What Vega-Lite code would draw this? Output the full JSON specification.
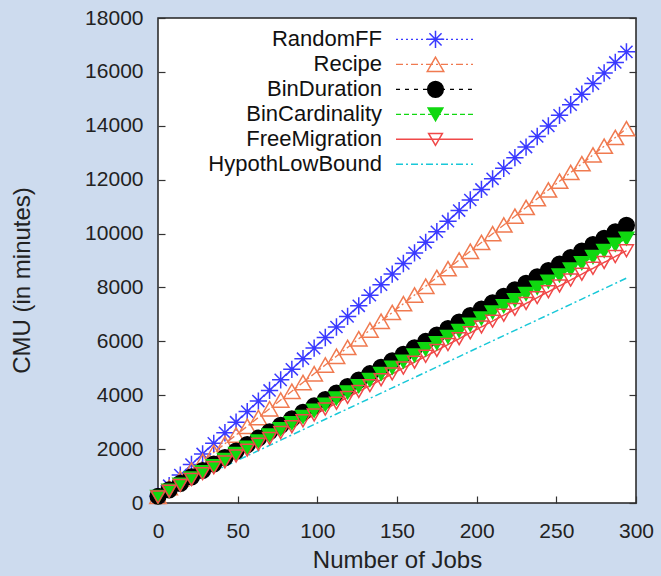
{
  "$schema": "https://vega.github.io/schema/vega-lite/v6.json",
  "autosize": "none",
  "width": 478,
  "height": 485,
  "padding": {"left": 158, "top": 18, "right": 25, "bottom": 73},
  "background": "#cddbee",
  "config": {
    "view": {"fill": "white", "stroke": "#222", "strokeWidth": 1.5},
    "font": "Liberation Sans",
    "axis": {"grid": false, "domain": false, "tickColor": "#333", "tickWidth": 1.2, "tickSize": -7, "labelFont": "Liberation Sans", "labelFontSize": 21, "labelColor": "#222", "titleFont": "Liberation Sans", "titleFontSize": 24, "titleFontWeight": "normal", "titleColor": "#222", "format": "d", "labelFlush": false}
  },
  "data": {"values": [
    {"s":"RandomFF","x":0,"y":250},{"s":"RandomFF","x":7,"y":643},{"s":"RandomFF","x":14,"y":1035},{"s":"RandomFF","x":21,"y":1428},{"s":"RandomFF","x":28,"y":1821},{"s":"RandomFF","x":35,"y":2214},{"s":"RandomFF","x":42,"y":2606},{"s":"RandomFF","x":49,"y":2999},{"s":"RandomFF","x":56,"y":3392},{"s":"RandomFF","x":63,"y":3784},{"s":"RandomFF","x":70,"y":4177},{"s":"RandomFF","x":77,"y":4570},{"s":"RandomFF","x":84,"y":4962},{"s":"RandomFF","x":91,"y":5355},{"s":"RandomFF","x":98,"y":5748},{"s":"RandomFF","x":105,"y":6141},{"s":"RandomFF","x":112,"y":6533},{"s":"RandomFF","x":119,"y":6926},{"s":"RandomFF","x":126,"y":7319},{"s":"RandomFF","x":133,"y":7711},{"s":"RandomFF","x":140,"y":8104},{"s":"RandomFF","x":147,"y":8497},{"s":"RandomFF","x":154,"y":8889},{"s":"RandomFF","x":161,"y":9282},{"s":"RandomFF","x":168,"y":9675},{"s":"RandomFF","x":175,"y":10068},{"s":"RandomFF","x":182,"y":10460},{"s":"RandomFF","x":189,"y":10853},{"s":"RandomFF","x":196,"y":11246},{"s":"RandomFF","x":203,"y":11638},{"s":"RandomFF","x":210,"y":12031},{"s":"RandomFF","x":217,"y":12424},{"s":"RandomFF","x":224,"y":12816},{"s":"RandomFF","x":231,"y":13209},{"s":"RandomFF","x":238,"y":13602},{"s":"RandomFF","x":245,"y":13995},{"s":"RandomFF","x":252,"y":14387},{"s":"RandomFF","x":259,"y":14780},{"s":"RandomFF","x":266,"y":15173},{"s":"RandomFF","x":273,"y":15565},{"s":"RandomFF","x":280,"y":15958},{"s":"RandomFF","x":287,"y":16351},{"s":"RandomFF","x":294,"y":16743},
    {"s":"Recipe","x":0,"y":250},{"s":"Recipe","x":7,"y":575},{"s":"Recipe","x":14,"y":900},{"s":"Recipe","x":21,"y":1224},{"s":"Recipe","x":28,"y":1549},{"s":"Recipe","x":35,"y":1874},{"s":"Recipe","x":42,"y":2199},{"s":"Recipe","x":49,"y":2524},{"s":"Recipe","x":56,"y":2848},{"s":"Recipe","x":63,"y":3173},{"s":"Recipe","x":70,"y":3498},{"s":"Recipe","x":77,"y":3823},{"s":"Recipe","x":84,"y":4148},{"s":"Recipe","x":91,"y":4472},{"s":"Recipe","x":98,"y":4797},{"s":"Recipe","x":105,"y":5122},{"s":"Recipe","x":112,"y":5447},{"s":"Recipe","x":119,"y":5772},{"s":"Recipe","x":126,"y":6096},{"s":"Recipe","x":133,"y":6421},{"s":"Recipe","x":140,"y":6746},{"s":"Recipe","x":147,"y":7071},{"s":"Recipe","x":154,"y":7396},{"s":"Recipe","x":161,"y":7720},{"s":"Recipe","x":168,"y":8045},{"s":"Recipe","x":175,"y":8370},{"s":"Recipe","x":182,"y":8695},{"s":"Recipe","x":189,"y":9020},{"s":"Recipe","x":196,"y":9344},{"s":"Recipe","x":203,"y":9669},{"s":"Recipe","x":210,"y":9994},{"s":"Recipe","x":217,"y":10319},{"s":"Recipe","x":224,"y":10644},{"s":"Recipe","x":231,"y":10968},{"s":"Recipe","x":238,"y":11293},{"s":"Recipe","x":245,"y":11618},{"s":"Recipe","x":252,"y":11943},{"s":"Recipe","x":259,"y":12268},{"s":"Recipe","x":266,"y":12592},{"s":"Recipe","x":273,"y":12917},{"s":"Recipe","x":280,"y":13242},{"s":"Recipe","x":287,"y":13567},{"s":"Recipe","x":294,"y":13892},
    {"s":"BinDuration","x":0,"y":250},{"s":"BinDuration","x":7,"y":489},{"s":"BinDuration","x":14,"y":729},{"s":"BinDuration","x":21,"y":968},{"s":"BinDuration","x":28,"y":1208},{"s":"BinDuration","x":35,"y":1447},{"s":"BinDuration","x":42,"y":1686},{"s":"BinDuration","x":49,"y":1926},{"s":"BinDuration","x":56,"y":2165},{"s":"BinDuration","x":63,"y":2405},{"s":"BinDuration","x":70,"y":2644},{"s":"BinDuration","x":77,"y":2883},{"s":"BinDuration","x":84,"y":3123},{"s":"BinDuration","x":91,"y":3362},{"s":"BinDuration","x":98,"y":3602},{"s":"BinDuration","x":105,"y":3841},{"s":"BinDuration","x":112,"y":4080},{"s":"BinDuration","x":119,"y":4320},{"s":"BinDuration","x":126,"y":4559},{"s":"BinDuration","x":133,"y":4799},{"s":"BinDuration","x":140,"y":5038},{"s":"BinDuration","x":147,"y":5277},{"s":"BinDuration","x":154,"y":5517},{"s":"BinDuration","x":161,"y":5756},{"s":"BinDuration","x":168,"y":5996},{"s":"BinDuration","x":175,"y":6235},{"s":"BinDuration","x":182,"y":6474},{"s":"BinDuration","x":189,"y":6714},{"s":"BinDuration","x":196,"y":6953},{"s":"BinDuration","x":203,"y":7193},{"s":"BinDuration","x":210,"y":7432},{"s":"BinDuration","x":217,"y":7671},{"s":"BinDuration","x":224,"y":7911},{"s":"BinDuration","x":231,"y":8150},{"s":"BinDuration","x":238,"y":8390},{"s":"BinDuration","x":245,"y":8629},{"s":"BinDuration","x":252,"y":8868},{"s":"BinDuration","x":259,"y":9108},{"s":"BinDuration","x":266,"y":9347},{"s":"BinDuration","x":273,"y":9587},{"s":"BinDuration","x":280,"y":9826},{"s":"BinDuration","x":287,"y":10065},{"s":"BinDuration","x":294,"y":10305},
    {"s":"BinCardinality","x":0,"y":230},{"s":"BinCardinality","x":7,"y":458},{"s":"BinCardinality","x":14,"y":686},{"s":"BinCardinality","x":21,"y":915},{"s":"BinCardinality","x":28,"y":1143},{"s":"BinCardinality","x":35,"y":1371},{"s":"BinCardinality","x":42,"y":1599},{"s":"BinCardinality","x":49,"y":1827},{"s":"BinCardinality","x":56,"y":2056},{"s":"BinCardinality","x":63,"y":2284},{"s":"BinCardinality","x":70,"y":2512},{"s":"BinCardinality","x":77,"y":2740},{"s":"BinCardinality","x":84,"y":2968},{"s":"BinCardinality","x":91,"y":3197},{"s":"BinCardinality","x":98,"y":3425},{"s":"BinCardinality","x":105,"y":3653},{"s":"BinCardinality","x":112,"y":3881},{"s":"BinCardinality","x":119,"y":4109},{"s":"BinCardinality","x":126,"y":4338},{"s":"BinCardinality","x":133,"y":4566},{"s":"BinCardinality","x":140,"y":4794},{"s":"BinCardinality","x":147,"y":5022},{"s":"BinCardinality","x":154,"y":5250},{"s":"BinCardinality","x":161,"y":5479},{"s":"BinCardinality","x":168,"y":5707},{"s":"BinCardinality","x":175,"y":5935},{"s":"BinCardinality","x":182,"y":6163},{"s":"BinCardinality","x":189,"y":6391},{"s":"BinCardinality","x":196,"y":6620},{"s":"BinCardinality","x":203,"y":6848},{"s":"BinCardinality","x":210,"y":7076},{"s":"BinCardinality","x":217,"y":7304},{"s":"BinCardinality","x":224,"y":7532},{"s":"BinCardinality","x":231,"y":7761},{"s":"BinCardinality","x":238,"y":7989},{"s":"BinCardinality","x":245,"y":8217},{"s":"BinCardinality","x":252,"y":8445},{"s":"BinCardinality","x":259,"y":8673},{"s":"BinCardinality","x":266,"y":8902},{"s":"BinCardinality","x":273,"y":9130},{"s":"BinCardinality","x":280,"y":9358},{"s":"BinCardinality","x":287,"y":9586},{"s":"BinCardinality","x":294,"y":9814},
    {"s":"FreeMigration","x":0,"y":220},{"s":"FreeMigration","x":7,"y":438},{"s":"FreeMigration","x":14,"y":655},{"s":"FreeMigration","x":21,"y":873},{"s":"FreeMigration","x":28,"y":1091},{"s":"FreeMigration","x":35,"y":1309},{"s":"FreeMigration","x":42,"y":1526},{"s":"FreeMigration","x":49,"y":1744},{"s":"FreeMigration","x":56,"y":1962},{"s":"FreeMigration","x":63,"y":2179},{"s":"FreeMigration","x":70,"y":2397},{"s":"FreeMigration","x":77,"y":2615},{"s":"FreeMigration","x":84,"y":2832},{"s":"FreeMigration","x":91,"y":3050},{"s":"FreeMigration","x":98,"y":3268},{"s":"FreeMigration","x":105,"y":3486},{"s":"FreeMigration","x":112,"y":3703},{"s":"FreeMigration","x":119,"y":3921},{"s":"FreeMigration","x":126,"y":4139},{"s":"FreeMigration","x":133,"y":4356},{"s":"FreeMigration","x":140,"y":4574},{"s":"FreeMigration","x":147,"y":4792},{"s":"FreeMigration","x":154,"y":5009},{"s":"FreeMigration","x":161,"y":5227},{"s":"FreeMigration","x":168,"y":5445},{"s":"FreeMigration","x":175,"y":5663},{"s":"FreeMigration","x":182,"y":5880},{"s":"FreeMigration","x":189,"y":6098},{"s":"FreeMigration","x":196,"y":6316},{"s":"FreeMigration","x":203,"y":6533},{"s":"FreeMigration","x":210,"y":6751},{"s":"FreeMigration","x":217,"y":6969},{"s":"FreeMigration","x":224,"y":7186},{"s":"FreeMigration","x":231,"y":7404},{"s":"FreeMigration","x":238,"y":7622},{"s":"FreeMigration","x":245,"y":7840},{"s":"FreeMigration","x":252,"y":8057},{"s":"FreeMigration","x":259,"y":8275},{"s":"FreeMigration","x":266,"y":8493},{"s":"FreeMigration","x":273,"y":8710},{"s":"FreeMigration","x":280,"y":8928},{"s":"FreeMigration","x":287,"y":9146},{"s":"FreeMigration","x":294,"y":9363},
    {"s":"HypothLowBound","x":0,"y":200},{"s":"HypothLowBound","x":7,"y":394},{"s":"HypothLowBound","x":14,"y":588},{"s":"HypothLowBound","x":21,"y":782},{"s":"HypothLowBound","x":28,"y":976},{"s":"HypothLowBound","x":35,"y":1170},{"s":"HypothLowBound","x":42,"y":1363},{"s":"HypothLowBound","x":49,"y":1557},{"s":"HypothLowBound","x":56,"y":1751},{"s":"HypothLowBound","x":63,"y":1945},{"s":"HypothLowBound","x":70,"y":2139},{"s":"HypothLowBound","x":77,"y":2333},{"s":"HypothLowBound","x":84,"y":2527},{"s":"HypothLowBound","x":91,"y":2721},{"s":"HypothLowBound","x":98,"y":2915},{"s":"HypothLowBound","x":105,"y":3109},{"s":"HypothLowBound","x":112,"y":3302},{"s":"HypothLowBound","x":119,"y":3496},{"s":"HypothLowBound","x":126,"y":3690},{"s":"HypothLowBound","x":133,"y":3884},{"s":"HypothLowBound","x":140,"y":4078},{"s":"HypothLowBound","x":147,"y":4272},{"s":"HypothLowBound","x":154,"y":4466},{"s":"HypothLowBound","x":161,"y":4660},{"s":"HypothLowBound","x":168,"y":4854},{"s":"HypothLowBound","x":175,"y":5048},{"s":"HypothLowBound","x":182,"y":5241},{"s":"HypothLowBound","x":189,"y":5435},{"s":"HypothLowBound","x":196,"y":5629},{"s":"HypothLowBound","x":203,"y":5823},{"s":"HypothLowBound","x":210,"y":6017},{"s":"HypothLowBound","x":217,"y":6211},{"s":"HypothLowBound","x":224,"y":6405},{"s":"HypothLowBound","x":231,"y":6599},{"s":"HypothLowBound","x":238,"y":6793},{"s":"HypothLowBound","x":245,"y":6987},{"s":"HypothLowBound","x":252,"y":7180},{"s":"HypothLowBound","x":259,"y":7374},{"s":"HypothLowBound","x":266,"y":7568},{"s":"HypothLowBound","x":273,"y":7762},{"s":"HypothLowBound","x":280,"y":7956},{"s":"HypothLowBound","x":287,"y":8150},{"s":"HypothLowBound","x":294,"y":8344}
  ]},
  "encoding": {
    "x": {"field": "x", "type": "quantitative", "scale": {"domain": [0, 300], "nice": false},
      "axis": {"values": [0, 50, 100, 150, 200, 250, 300], "title": "Number of Jobs", "labelPadding": 24, "titleY": 57, "titleBaseline": "middle", "labelFlush": false}},
    "y": {"field": "y", "type": "quantitative", "scale": {"domain": [0, 18000], "nice": false}}
  },
  "layer": [
    {
      "mark": {"type": "line", "clip": false},
      "encoding": {
        "y": {"field": "y", "type": "quantitative", "axis": {"orient": "right", "labels": false, "title": null, "values": [0,2000,4000,6000,8000,10000,12000,14000,16000,18000]}},
        "color": {"field": "s", "type": "nominal",
          "scale": {"domain": ["RandomFF","Recipe","BinDuration","BinCardinality","FreeMigration","HypothLowBound"],
                    "range": ["#3a3aff","#f07a50","#000000","#10d810","#f04848","#18c8d8"]},
          "legend": {"orient": "none", "legendX": 237, "legendY": 9, "title": null, "symbolType": "stroke", "symbolSize": 5929, "labelAlign": "right", "labelBaseline": "middle", "labelOffset": -92, "labelFontSize": 22, "labelFont": "Liberation Sans", "labelColor": "#111", "labelLimit": 400, "rowPadding": 1, "padding": 0,
            "encode": {"symbols": {"update": {"y": {"value": 12.35}}}, "labels": {"update": {"y": {"value": 12.35}}}}}},
        "strokeDash": {"field": "s", "type": "nominal",
          "scale": {"domain": ["RandomFF","Recipe","BinDuration","BinCardinality","FreeMigration","HypothLowBound"],
                    "range": [[2,3],[7,3,2,3],[4,5],[5,3],[1,0],[7,3,2,3]]}},
        "strokeWidth": {"field": "s", "type": "nominal",
          "scale": {"domain": ["RandomFF","Recipe","BinDuration","BinCardinality","FreeMigration","HypothLowBound"],
                    "range": [1.3,1.5,1.3,1.3,2,2.8]}}
      }
    },
    {
      "transform": [{"filter": "datum.s !== 'HypothLowBound'"}],
      "mark": {"type": "point", "filled": true, "clip": false, "strokeWidth": 1.5, "opacity": 1},
      "encoding": {
        "y": {"field": "y", "type": "quantitative", "axis": {"orient": "left", "values": [0,2000,4000,6000,8000,10000,12000,14000,16000,18000], "title": "CMU (in minutes)", "labelPadding": 22, "titleX": -136, "titleY": 262, "titleBaseline": "middle", "titleAngle": -90}},
        "shape": {"field": "s", "type": "nominal",
          "scale": {"domain": ["RandomFF","Recipe","BinDuration","BinCardinality","FreeMigration"],
                    "range": ["M-1,0L1,0M0,-1L0,1M-0.7,-0.7L0.7,0.7M-0.7,0.7L0.7,-0.7","triangle-up","circle","triangle-down","triangle-down"]},
          "legend": {"orient": "none", "legendX": 268, "legendY": 9, "title": null, "clipHeight": 24.7, "symbolStrokeWidth": 1.5, "labelOpacity": 0, "labelFontSize": 6, "labelFont": "Liberation Sans", "rowPadding": 0, "padding": 0}},
        "stroke": {"field": "s", "type": "nominal",
          "scale": {"domain": ["RandomFF","Recipe","BinDuration","BinCardinality","FreeMigration"],
                    "range": ["#3a3aff","#f07a50","#000000","#10d810","#f04848"]}},
        "fill": {"field": "s", "type": "nominal",
          "scale": {"domain": ["RandomFF","Recipe","BinDuration","BinCardinality","FreeMigration"],
                    "range": ["transparent","transparent","#000000","#10d810","transparent"]}},
        "size": {"field": "s", "type": "nominal",
          "scale": {"domain": ["RandomFF","Recipe","BinDuration","BinCardinality","FreeMigration"],
                    "range": [300, 190, 180, 170, 170]}}
      }
    }
  ],
  "resolve": {"axis": {"y": "independent"}}
}
